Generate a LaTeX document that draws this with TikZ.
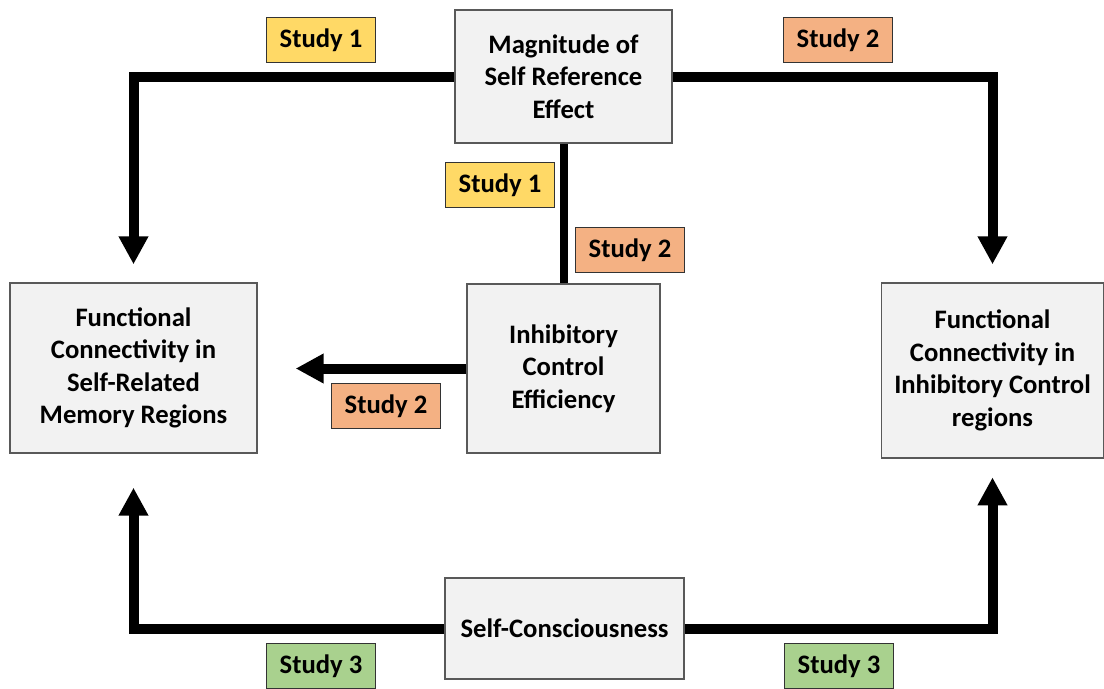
\documentclass[tikz,border=0pt]{standalone}
\usepackage{fontspec}
\setmainfont{Carlito}
\usetikzlibrary{arrows.meta,positioning,calc}

\definecolor{boxgray}{HTML}{F2F2F2}
\definecolor{studyone}{HTML}{FFD966}
\definecolor{studytwo}{HTML}{F4B183}
\definecolor{studythree}{HTML}{A9D18E}

\begin{document}
\begin{tikzpicture}[x=0.75pt,y=-0.75pt,
    font=\fontsize{20}{24.4}\selectfont\bfseries,
    concept/.style={draw=black!65,line width=1pt,fill=boxgray,align=center,inner sep=0pt},
    tag/.style={draw=black!80,line width=0.8pt,minimum width=81.75pt,minimum height=33.75pt,inner sep=0pt},
    link/.style={line width=7.5pt,-{Triangle[length=21pt,width=21pt]}}]
    \useasboundingbox (0,0) rectangle (1104,689);
    % Concept boxes
    \node[concept,minimum width=162.75pt,minimum height=99.75pt] (mag) at (563.5,76.5)
      {Magnitude of\\Self Reference\\Effect};
    \node[concept,minimum width=144.75pt,minimum height=126.75pt] (inhib) at (563.5,368.5)
      {Inhibitory\\Control\\Efficiency};
    \node[concept,minimum width=185.25pt,minimum height=127.5pt] (selfmem) at (133.5,368)
      {Functional\\Connectivity in\\Self-Related\\Memory Regions};
    \node[concept,minimum width=166.5pt,minimum height=131.25pt] (inhctl) at (992.5,370.5)
      {Functional\\Connectivity in\\Inhibitory Control\\regions};
    \node[concept,minimum width=179.25pt,minimum height=75.75pt] (selfc) at (564.5,628.5)
      {Self-Consciousness};
    % Study tags
    \foreach \x/\y/\c/\n [count=\i] in {321/40/studyone/1, 838/40/studytwo/2,
        500/185/studyone/1, 630/250/studytwo/2, 386/406/studytwo/2,
        321/666/studythree/3, 839/666/studythree/3} {
      \node[tag,fill=\c] (s\i) at (\x,\y) {Study \n};
    }
    % Connectors
    \draw[link,shorten >=13.5pt] (mag.west) -| (selfmem.north);
    \draw[link,shorten >=13.5pt] (mag.east) -| (inhctl.north);
    \draw[line width=6pt] (mag.south) -- (inhib.north);
    \draw[link,shorten >=28.5pt] (inhib.west) -- (selfmem.east |- inhib.west);
    \draw[link,shorten >=25.5pt] (selfc.west) -| (selfmem.south);
    \draw[link,shorten >=14pt] (selfc.east) -| (inhctl.south);
  \end{tikzpicture}
\end{document}
